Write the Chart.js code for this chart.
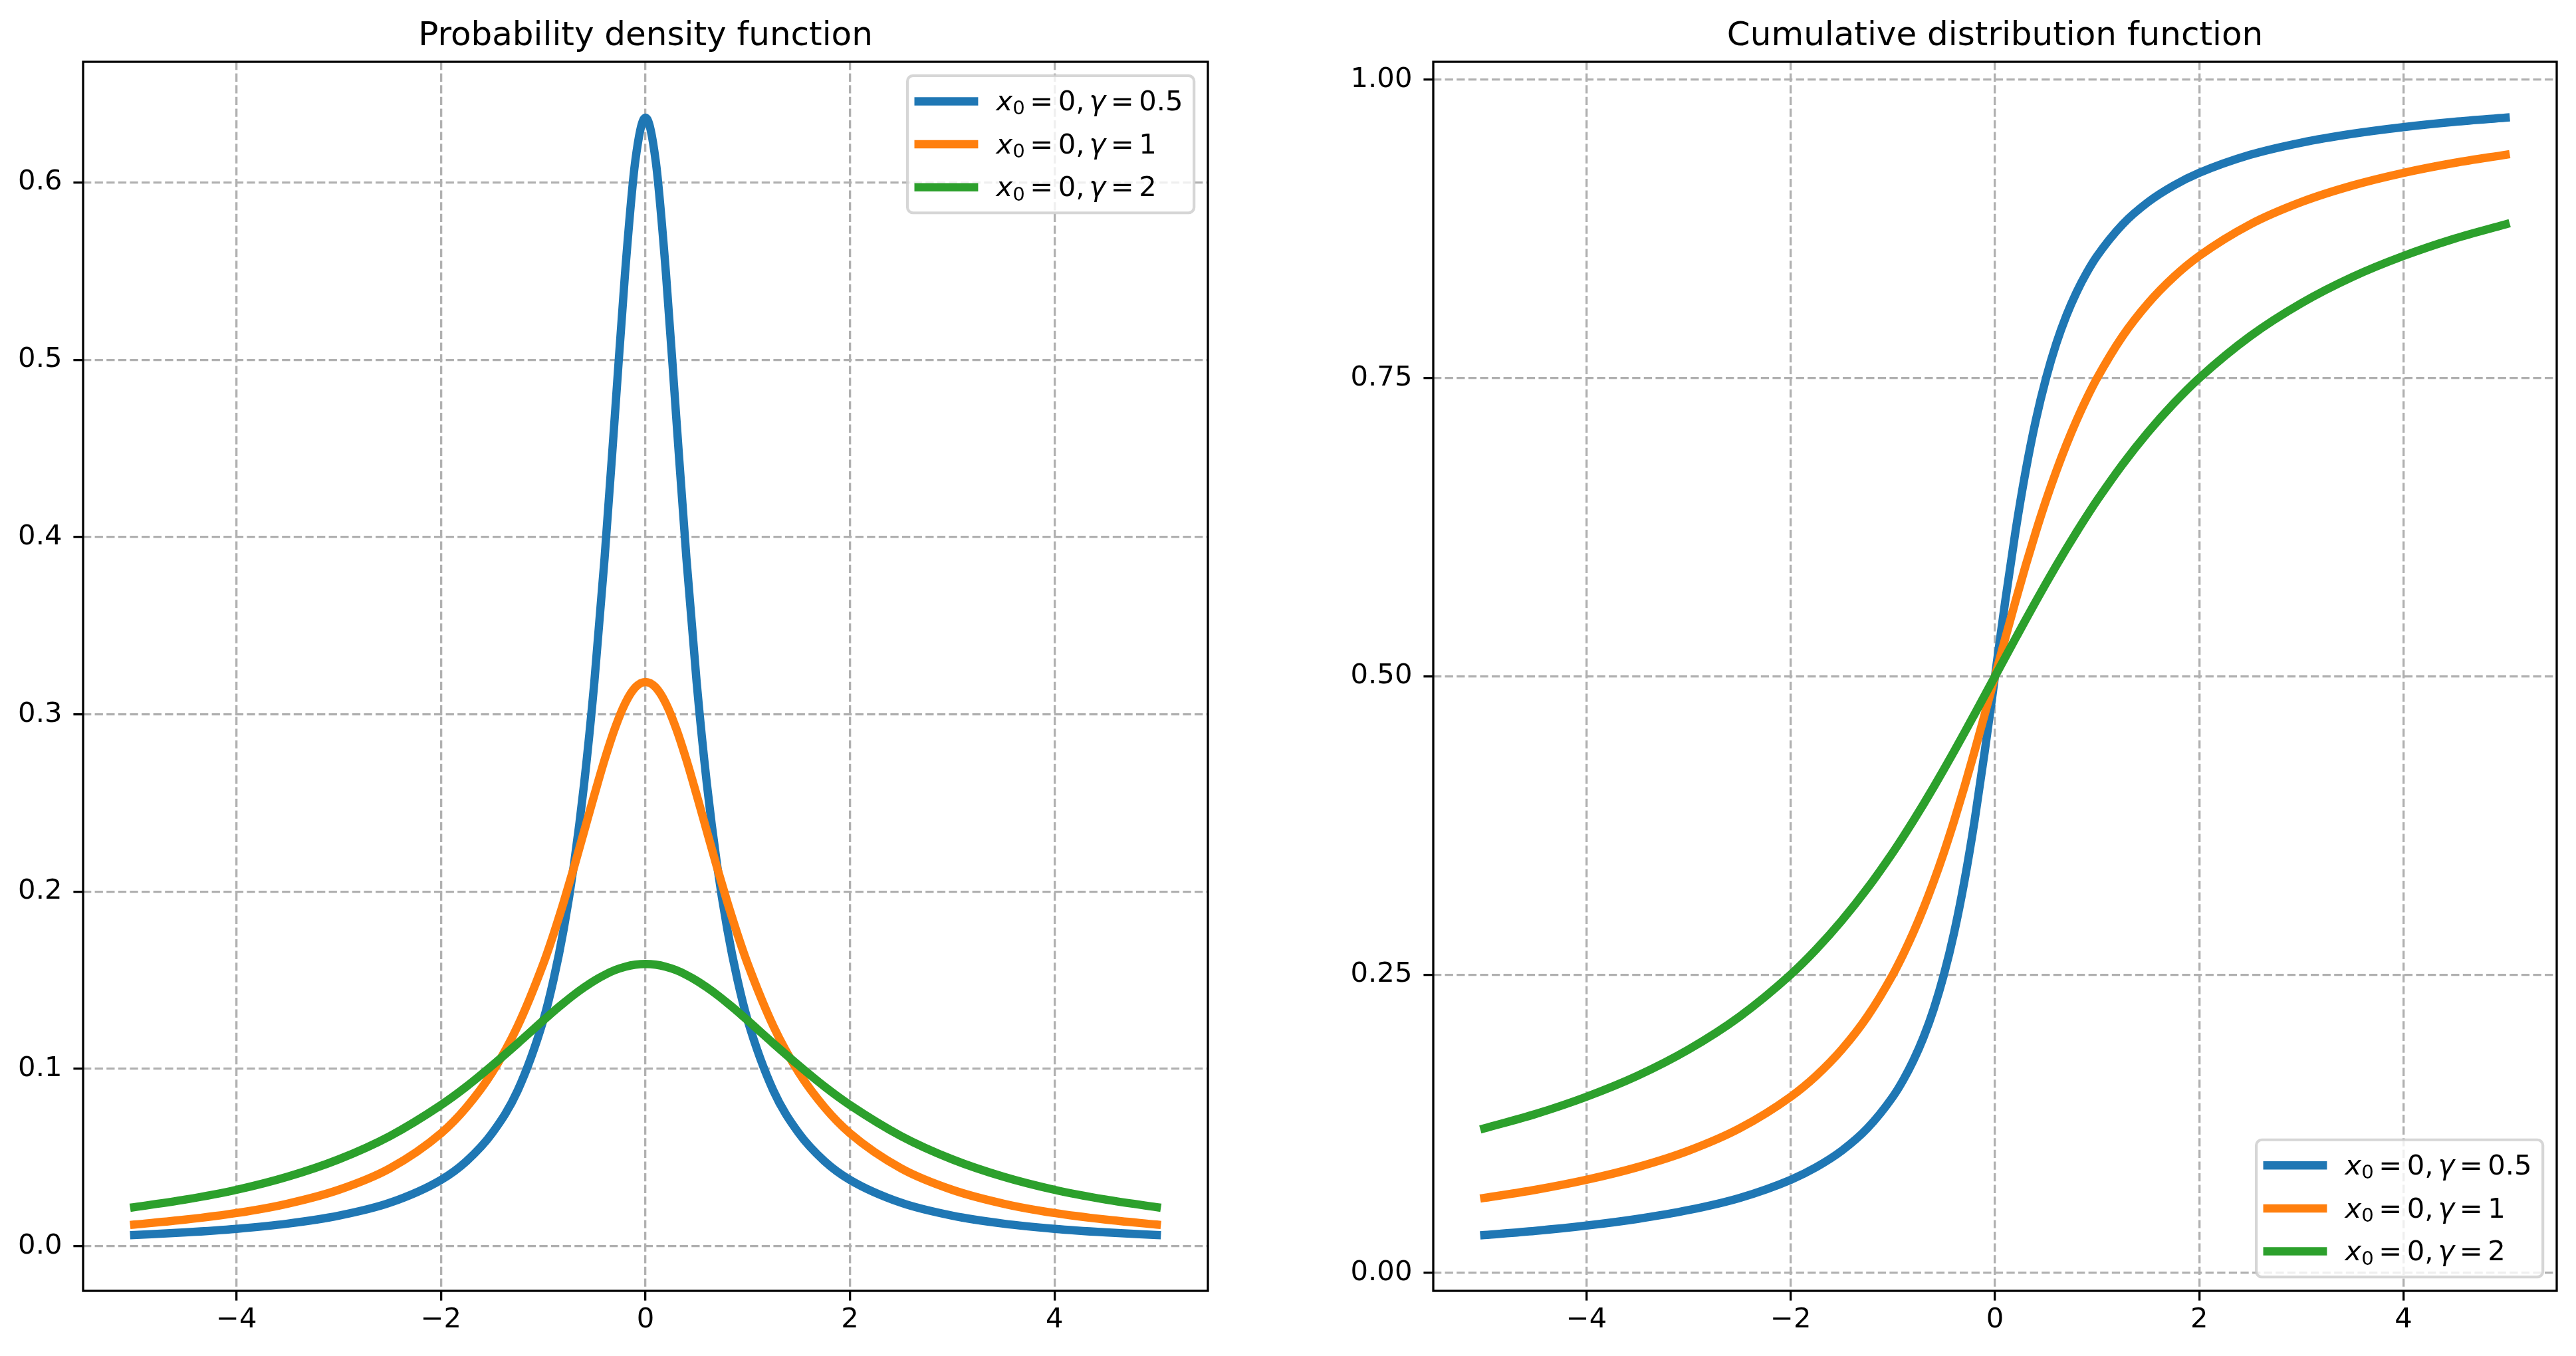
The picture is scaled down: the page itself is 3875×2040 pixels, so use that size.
<!DOCTYPE html>
<html>
<head>
<meta charset="utf-8">
<script src="https://cdn.jsdelivr.net/npm/chart.js@4.4.0/dist/chart.umd.min.js"></script>
<style>
html, body { margin: 0; padding: 0; background: #fff; }
#marco { position: relative; width: 3875px; height: 2040px; overflow: hidden; background: #fff; }
canvas { position: absolute; top: 0; }
#pdfChart { left: 0; }
#cdfChart { left: 1990px; }
</style>
</head>
<body>
<div id="marco">
  <canvas id="pdfChart" width="1990" height="2040"></canvas>
  <canvas id="cdfChart" width="1885" height="2040"></canvas>
</div>
<script>
// valores
const xValores = [-5, -4.5, -4, -3.5, -3, -2.5, -2, -1.75, -1.5, -1.25, -1, -0.9, -0.8, -0.7, -0.6, -0.5, -0.4, -0.3, -0.2, -0.1, 0,
  0.1, 0.2, 0.3, 0.4, 0.5, 0.6, 0.7, 0.8, 0.9, 1, 1.25, 1.5, 1.75, 2, 2.5, 3, 3.5, 4, 4.5, 5];

const pdfGamma05 = [0.0063, 0.0078, 0.0098, 0.0127, 0.0172, 0.0245, 0.0374, 0.0480, 0.0637, 0.0878, 0.1273, 0.1501, 0.1788, 0.2151, 0.2609, 0.3183, 0.3882, 0.4681, 0.5488, 0.6121, 0.6366,
  0.6121, 0.5488, 0.4681, 0.3882, 0.3183, 0.2609, 0.2151, 0.1788, 0.1501, 0.1273, 0.0878, 0.0637, 0.0480, 0.0374, 0.0245, 0.0172, 0.0127, 0.0098, 0.0078, 0.0063];
const pdfGamma1 = [0.0122, 0.0150, 0.0187, 0.0240, 0.0318, 0.0439, 0.0637, 0.0784, 0.0979, 0.1242, 0.1592, 0.1759, 0.1941, 0.2136, 0.2341, 0.2546, 0.2744, 0.2920, 0.3061, 0.3152, 0.3183,
  0.3152, 0.3061, 0.2920, 0.2744, 0.2546, 0.2341, 0.2136, 0.1941, 0.1759, 0.1592, 0.1242, 0.0979, 0.0784, 0.0637, 0.0439, 0.0318, 0.0240, 0.0187, 0.0150, 0.0122];
const pdfGamma2 = [0.0220, 0.0263, 0.0318, 0.0392, 0.0490, 0.0621, 0.0796, 0.0901, 0.1019, 0.1144, 0.1273, 0.1324, 0.1372, 0.1418, 0.1460, 0.1498, 0.1530, 0.1557, 0.1576, 0.1588, 0.1592,
  0.1588, 0.1576, 0.1557, 0.1530, 0.1498, 0.1460, 0.1418, 0.1372, 0.1324, 0.1273, 0.1144, 0.1019, 0.0901, 0.0796, 0.0621, 0.0490, 0.0392, 0.0318, 0.0263, 0.0220];

const cdfGamma05 = [0.0317, 0.0352, 0.0396, 0.0452, 0.0526, 0.0628, 0.0780, 0.0886, 0.1024, 0.1211, 0.1476, 0.1614, 0.1778, 0.1974, 0.2211, 0.2500, 0.2852, 0.3280, 0.3789, 0.4372, 0.5000,
  0.5628, 0.6211, 0.6720, 0.7148, 0.7500, 0.7789, 0.8026, 0.8222, 0.8386, 0.8524, 0.8789, 0.8976, 0.9114, 0.9220, 0.9372, 0.9474, 0.9548, 0.9604, 0.9648, 0.9683];
const cdfGamma1 = [0.0628, 0.0696, 0.0780, 0.0886, 0.1024, 0.1211, 0.1476, 0.1652, 0.1872, 0.2148, 0.2500, 0.2667, 0.2852, 0.3056, 0.3280, 0.3524, 0.3789, 0.4072, 0.4372, 0.4683, 0.5000,
  0.5317, 0.5628, 0.5928, 0.6211, 0.6476, 0.6720, 0.6944, 0.7148, 0.7333, 0.7500, 0.7852, 0.8128, 0.8348, 0.8524, 0.8789, 0.8976, 0.9114, 0.9220, 0.9304, 0.9372];
const cdfGamma2 = [0.1211, 0.1331, 0.1476, 0.1652, 0.1872, 0.2148, 0.2500, 0.2712, 0.2952, 0.3222, 0.3524, 0.3654, 0.3789, 0.3928, 0.4072, 0.4220, 0.4372, 0.4526, 0.4683, 0.4841, 0.5000,
  0.5159, 0.5317, 0.5474, 0.5628, 0.5780, 0.5928, 0.6072, 0.6211, 0.6346, 0.6476, 0.6778, 0.7048, 0.7288, 0.7500, 0.7852, 0.8128, 0.8348, 0.8524, 0.8669, 0.8789];

const etiquetasSeries = ['x₀ = 0, γ = 0.5', 'x₀ = 0, γ = 1', 'x₀ = 0, γ = 2'];
const gammas = ['0.5', '1', '2'];
const x0s = ['0', '0', '0'];

const xTicks = [-4, -2, 0, 2, 4];
const xTickEtiquetas = ['\u22124', '\u22122', '0', '2', '4'];
const pdfTicks = [0, 0.1, 0.2, 0.3, 0.4, 0.5, 0.6];
const pdfTickEtiquetas = ['0.0', '0.1', '0.2', '0.3', '0.4', '0.5', '0.6'];
const cdfTicks = [0, 0.25, 0.5, 0.75, 1];
const cdfTickEtiquetas = ['0.00', '0.25', '0.50', '0.75', '1.00'];

const colores = ['#1f77b4', '#ff7f0e', '#2ca02c'];
const FS = 41.7;   // 10pt a 300 dpi
const FUENTE = '"DejaVu Sans"';

Chart.defaults.font.family = FUENTE;

// etiqueta estilo mathtext: x italica con subindice, gamma italica
function partesEtiqueta(i) {
  return [
    { t: 'x', it: true },
    { t: x0s[i], s: 0.7, dy: 0.15 },
    { gap: 0.18 }, { t: '=' }, { gap: 0.18 },
    { t: '0,' }, { gap: 0.17 },
    { t: 'γ', it: true }, { gap: 0.18 }, { t: '=' }, { gap: 0.18 },
    { t: gammas[i] }
  ];
}

function dibujarEtiqueta(ctx, partes, x, y, dibujar) {
  let px = x;
  for (const p of partes) {
    if (p.gap) { px += p.gap * FS; continue; }
    const s = (p.s || 1) * FS;
    ctx.font = (p.it ? 'italic ' : '') + s + 'px ' + FUENTE;
    if (dibujar) ctx.fillText(p.t, px, y + (p.dy || 0) * FS);
    px += ctx.measureText(p.t).width;
  }
  return px - x;
}

function pluginMarcoLeyenda(esquina) {
  return {
    id: 'marcoLeyenda',
    afterDatasetsDraw(chart) {
      const ctx = chart.ctx;
      const a = chart.chartArea;
      ctx.save();
      // spines
      ctx.strokeStyle = '#000';
      ctx.lineWidth = 3.3;
      ctx.strokeRect(a.left, a.top, a.right - a.left, a.bottom - a.top);

      // leyenda
      const bp = 0.4 * FS, hl = 2 * FS, htp = 0.8 * FS, ls = 0.5 * FS, pad = 0.5 * FS, h = 1.05 * FS;
      const partes = chart.data.datasets.map((ds, i) => partesEtiqueta(i));
      const anchoTexto = Math.max(...partes.map(p => dibujarEtiqueta(ctx, p, 0, 0, false)));
      const w = 2 * bp + hl + htp + anchoTexto;
      const alto = 2 * bp + 3 * h + 2 * ls;
      const lx = a.right - pad - w;
      const ly = esquina === 'arriba' ? a.top + pad : a.bottom - pad - alto;

      ctx.beginPath();
      ctx.roundRect(lx, ly, w, alto, 0.2 * FS);
      ctx.fillStyle = 'rgba(255,255,255,0.8)';
      ctx.fill();
      ctx.strokeStyle = 'rgba(204,204,204,0.8)';
      ctx.lineWidth = 4.2;
      ctx.stroke();

      chart.data.datasets.forEach((ds, i) => {
        const cy = ly + bp + i * (h + ls) + h / 2;
        ctx.beginPath();
        ctx.moveTo(lx + bp, cy);
        ctx.lineTo(lx + bp + hl, cy);
        ctx.strokeStyle = ds.borderColor;
        ctx.lineWidth = 12.5;
        ctx.lineCap = 'square';
        ctx.stroke();
        ctx.fillStyle = '#000';
        ctx.textAlign = 'left';
        ctx.textBaseline = 'alphabetic';
        dibujarEtiqueta(ctx, partes[i], lx + bp + hl + htp, cy + 0.33 * FS, true);
      });
      ctx.restore();
    }
  };
}

function pluginTitulo(texto) {
  return {
    id: 'tituloMpl',
    afterDraw(chart) {
      const ctx = chart.ctx;
      const a = chart.chartArea;
      ctx.save();
      ctx.font = '50px ' + FUENTE;
      ctx.fillStyle = '#000';
      ctx.textAlign = 'center';
      ctx.textBaseline = 'alphabetic';
      ctx.fillText(texto, (a.left + a.right) / 2, a.top - 25);
      ctx.restore();
    }
  };
}

function hacerGrafico(id, series, yMin, yMax, yTicks, yEtiquetas, anchoEjeY, padDerecha, titulo, esquina) {
  const datasets = series.map((serie, i) => ({
    label: etiquetasSeries[i],
    data: xValores.map((x, j) => ({ x: x, y: serie[j] })),
    borderColor: colores[i],
    backgroundColor: colores[i],
    borderWidth: 12.5,
    borderCapStyle: 'square',
    borderJoinStyle: 'round',
    cubicInterpolationMode: 'monotone',
    pointRadius: 0,
    fill: false,
    order: series.length - i
  }));

  const grid = {
    color: '#b0b0b0',
    lineWidth: 3.3,
    tickColor: '#000',
    tickWidth: 3.3,
    tickLength: 14.6,
    tickBorderDash: []
  };
  const borde = { display: false, dash: [12.3, 5.3] };

  return new Chart(document.getElementById(id).getContext('2d'), {
    type: 'line',
    data: { datasets: datasets },
    options: {
      responsive: false,
      animation: false,
      devicePixelRatio: 1,
      layout: { padding: { top: 93, right: padDerecha, left: 0, bottom: 0 } },
      plugins: { legend: { display: false }, tooltip: { enabled: false } },
      scales: {
        x: {
          type: 'linear',
          min: -5.5,
          max: 5.5,
          grid: grid,
          border: borde,
          afterBuildTicks: s => { s.ticks = xTicks.map(v => ({ value: v })); },
          afterFit: s => { s.height = 98; },
          ticks: {
            autoSkip: false,
            maxRotation: 0,
            padding: 5,
            color: '#000',
            font: { size: FS },
            callback: (v, i) => xTickEtiquetas[i]
          }
        },
        y: {
          type: 'linear',
          min: yMin,
          max: yMax,
          grid: grid,
          border: borde,
          afterBuildTicks: s => { s.ticks = yTicks.map(v => ({ value: v })); },
          afterFit: s => { s.width = anchoEjeY; },
          ticks: {
            autoSkip: false,
            padding: 17,
            color: '#000',
            font: { size: FS },
            callback: (v, i) => yEtiquetas[i]
          }
        }
      }
    },
    plugins: [pluginMarcoLeyenda(esquina), pluginTitulo(titulo)]
  });
}

hacerGrafico('pdfChart', [pdfGamma05, pdfGamma1, pdfGamma2], -0.0252, 0.6681, pdfTicks, pdfTickEtiquetas,
  125, 1990 - 1817, 'Probability density function', 'arriba');
hacerGrafico('cdfChart', [cdfGamma05, cdfGamma1, cdfGamma2], -0.0151, 1.0151, cdfTicks, cdfTickEtiquetas,
  166, 1885 - (3846 - 1990), 'Cumulative distribution function', 'abajo');
</script>
</body>
</html>
